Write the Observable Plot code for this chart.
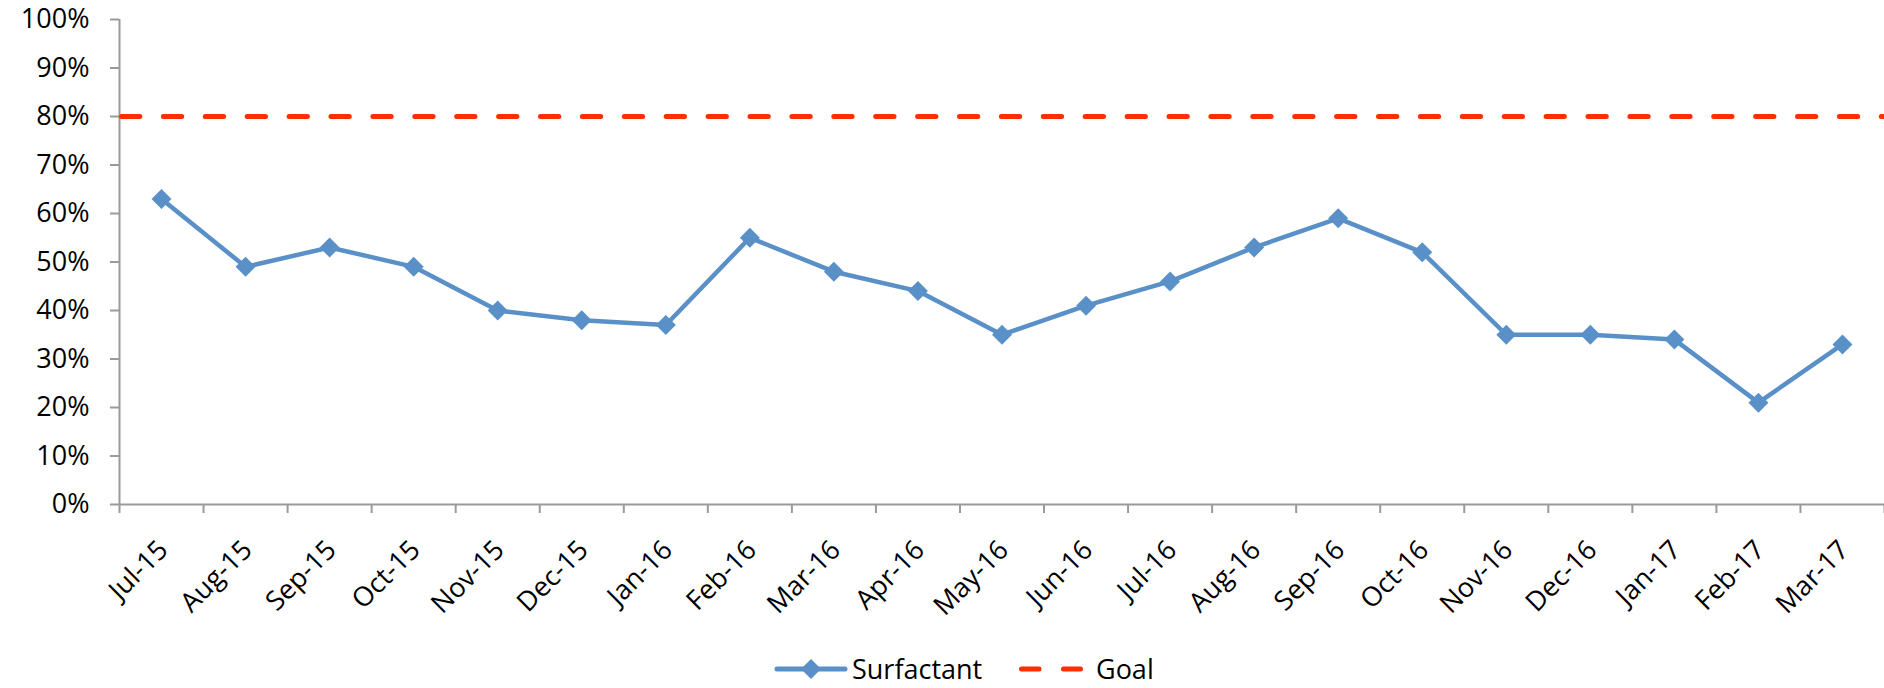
<!DOCTYPE html>
<html>
<head>
<meta charset="utf-8">
<script src="https://cdn.jsdelivr.net/npm/d3@7"></script>
<script src="https://cdn.jsdelivr.net/npm/@observablehq/plot@0.6"></script>
<style>
  html, body { margin: 0; padding: 0; background: #fff; }
  #chart svg { display: block; }
  #legend { display: block; overflow: visible; }
</style>
</head>
<body>
<div id="chart"></div>
<svg id="legend" width="1884" height="58"></svg>
<script>
const months = ["Jul-15","Aug-15","Sep-15","Oct-15","Nov-15","Dec-15","Jan-16","Feb-16","Mar-16","Apr-16","May-16","Jun-16","Jul-16","Aug-16","Sep-16","Oct-16","Nov-16","Dec-16","Jan-17","Feb-17","Mar-17"];
const surfactant = [63,49,53,49,40,38,37,55,48,44,35,41,46,53,59,52,35,35,34,21,33];
const goal = 80;
const yTicks = [0,10,20,30,40,50,60,70,80,90,100];

const blue = "#5A90C8";
const red = "#FF2D00";
const gray = "#9A9A9A";
const font = "'Open Sans', 'Liberation Sans', sans-serif";

const data = months.map((m, i) => ({i, m, v: surfactant[i]}));
const xTicks = d3.range(months.length + 1);

const chart = Plot.plot({
  width: 1884,
  height: 630,
  marginLeft: 119,
  marginRight: 0,
  marginTop: 19,
  marginBottom: 126,
  x: {type: "linear", domain: [0, months.length], axis: null, label: null},
  y: {type: "linear", domain: [0, 100], axis: null, label: null},
  style: {fontFamily: font, fontSize: "27px", color: "#000", background: "#fff", overflow: "visible"},
  marks: [
    Plot.axisY({ticks: yTicks, label: null, tickSize: 9, tickPadding: 21, tickFormat: d => d + "%", stroke: gray, strokeWidth: 2, fill: "#000", fontSize: 27, strokeOpacity: 1}),
    Plot.axisX({ticks: xTicks, label: null, tickSize: 9, tickFormat: () => "", stroke: gray, strokeWidth: 2, strokeOpacity: 1}),
    Plot.ruleX([0], {stroke: gray, strokeWidth: 2}),
    Plot.ruleY([0], {stroke: gray, strokeWidth: 2}),
    Plot.text(data, {x: d => d.i + 0.5, y: () => 0, text: "m", rotate: -45, textAnchor: "end", lineAnchor: "bottom", dx: 8, dy: 47, fontSize: 27, fill: "#000"}),
    Plot.ruleY([goal], {stroke: red, strokeWidth: 5, strokeDasharray: "18.3,23.6", strokeDashoffset: 39.4, strokeLinecap: "round"}),
    Plot.line(data, {x: d => d.i + 0.5, y: "v", stroke: blue, strokeWidth: 4.5, strokeLinejoin: "round"}),
    Plot.dot(data, {x: d => d.i + 0.5, y: "v", symbol: "diamond2", r: 9, fill: blue, stroke: "none"})
  ]
});
document.getElementById("chart").appendChild(chart);

// Legend
const lg = d3.select("#legend").style("font-family", font);
const cy = 39;
lg.append("line").attr("x1", 777).attr("x2", 845).attr("y1", cy).attr("y2", cy)
  .attr("stroke", blue).attr("stroke-width", 5).attr("stroke-linecap", "round");
lg.append("path").attr("d", d3.symbol(d3.symbolDiamond2, Math.PI * 81)())
  .attr("transform", `translate(811,${cy})`).attr("fill", blue);
lg.append("text").attr("x", 852).attr("y", 49).attr("font-size", 27).attr("fill", "#000").text("Surfactant");
lg.append("line").attr("x1", 1021.5).attr("x2", 1080.5).attr("y1", cy).attr("y2", cy)
  .attr("stroke", red).attr("stroke-width", 5).attr("stroke-linecap", "round")
  .attr("stroke-dasharray", "17.5,24.5");
lg.append("text").attr("x", 1096).attr("y", 49).attr("font-size", 27).attr("fill", "#000").text("Goal");
</script>
</body>
</html>
